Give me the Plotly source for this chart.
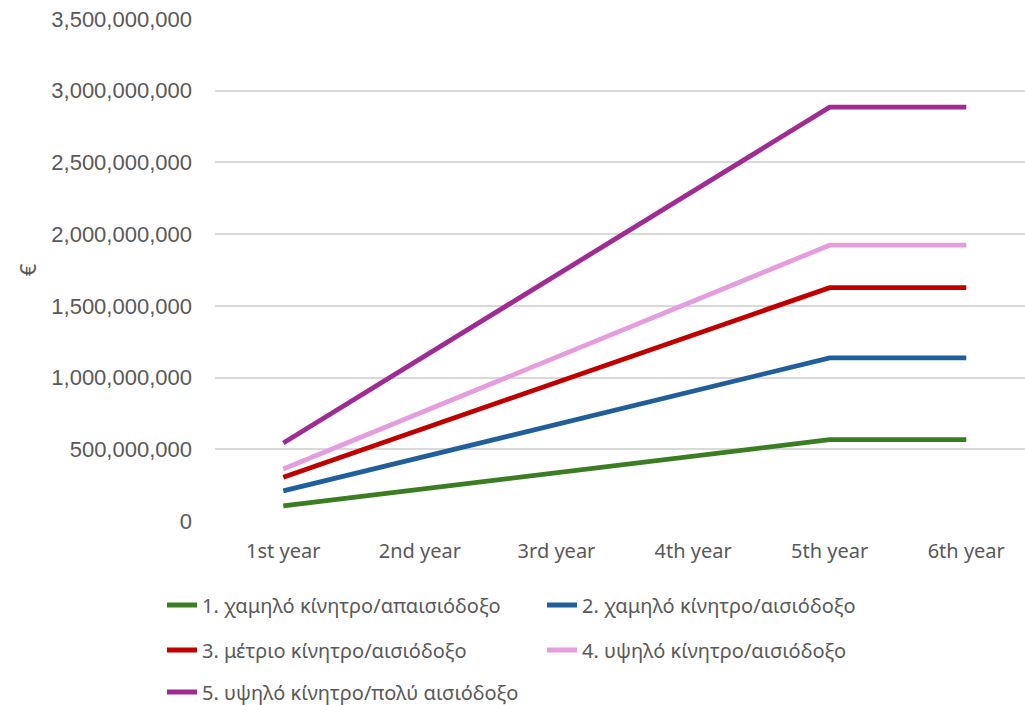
import plotly.graph_objects as go

categories = ["1st year", "2nd year", "3rd year", "4th year", "5th year", "6th year"]
names = [
    "1. χαμηλό κίνητρο/απαισιόδοξο",
    "2. χαμηλό κίνητρο/αισιόδοξο",
    "3. μέτριο κίνητρο/αισιόδοξο",
    "4. υψηλό κίνητρο/αισιόδοξο",
    "5. υψηλό κίνητρο/πολύ αισιόδοξο",
]
s1 = [105e6, 220e6, 335e6, 450e6, 567e6, 567e6]
s2 = [210e6, 442e6, 674e6, 906e6, 1137e6, 1137e6]
s3 = [305e6, 635e6, 965e6, 1295e6, 1627e6, 1627e6]
s4 = [362e6, 753e6, 1143e6, 1533e6, 1923e6, 1923e6]
s5 = [544e6, 1130e6, 1715e6, 2300e6, 2885e6, 2885e6]
series = [s1, s2, s3, s4, s5]
colors = ["#3A7D22", "#215F9A", "#C00000", "#E59EDD", "#A02B93"]
legend_ids = ["legend", "legend", "legend2", "legend2", "legend3"]

fig = go.Figure()
for n, s, c, lg in zip(names, series, colors, legend_ids):
    fig.add_trace(go.Scatter(x=categories, y=s, name=n, mode="lines", legend=lg,
                             line=dict(color=c, width=4.8)))

txt = "#595959"
def leg(yc):
    return dict(orientation="h", xref="container", yref="container",
                x=162 / 1025, y=1 - yc / 705, xanchor="left", yanchor="middle",
                entrywidth=335, entrywidthmode="pixels",
                bgcolor="rgba(0,0,0,0)",
                font=dict(family="Noto Sans", size=20, color=txt))

fig.update_layout(
    width=1025, height=705,
    margin=dict(l=215, r=0, t=19, b=184),
    plot_bgcolor="white", paper_bgcolor="white",
    font=dict(family="Noto Sans", size=18, color=txt),
    showlegend=True,
    legend=leg(605),
    legend2=leg(650),
    legend3=leg(692),
)
fig.update_xaxes(range=[-0.5, 5.43], showgrid=False, showline=False, ticks="",
                 tickfont=dict(family="Noto Sans", size=20, color=txt),
                 ticklabelstandoff=16)
fig.update_yaxes(range=[0, 3.5e9], dtick=5e8, tickformat=",d", showgrid=True,
                 gridcolor="#D9D9D9", gridwidth=1.5, zeroline=False, showline=False,
                 tickfont=dict(family="Liberation Sans", size=22, color=txt),
                 ticklabelstandoff=22,
                 title=dict(text="€", font=dict(family="Noto Sans", size=22, color=txt),
                            standoff=8))
fig.write_html("out.html")
